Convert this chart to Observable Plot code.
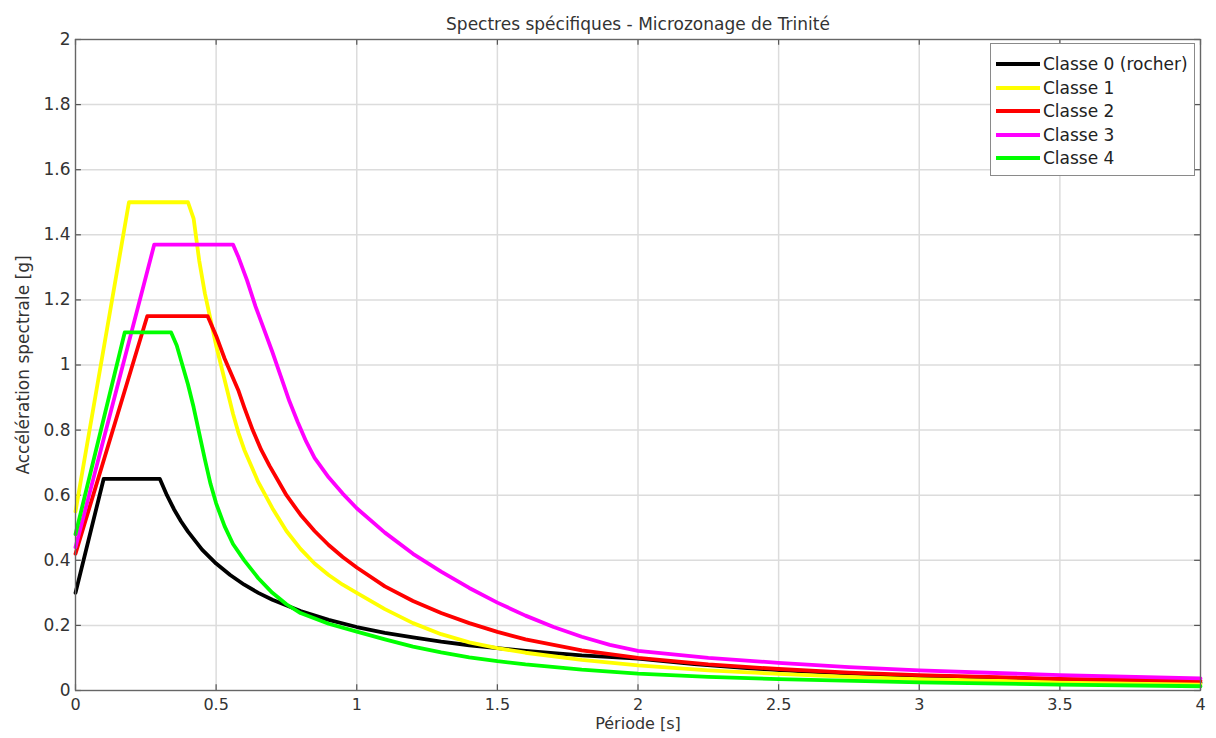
<!DOCTYPE html>
<html>
<head>
<meta charset="utf-8">
<script src="https://cdn.jsdelivr.net/npm/d3@7"></script>
<script src="https://cdn.jsdelivr.net/npm/@observablehq/plot@0.6"></script>
<style>
  html, body { margin: 0; padding: 0; background: #fff; }
  #wrap { position: relative; width: 1216px; height: 738px; font-family: "DejaVu Sans", "Liberation Sans", Arial, sans-serif; }
  #legend { position: absolute; left: 990px; top: 43px; width: 205px; height: 133px; border: 1px solid #8a8a8a; background: #fff; box-sizing: border-box; }
  .item { position: absolute; left: 0; height: 20px; display: flex; align-items: center; font-size: 17px; color: #222; white-space: nowrap; }
  .item svg { margin-left: 4px; margin-right: 2px; }
</style>
</head>
<body>
<div id="wrap"></div>
<script>
// ---- Data ----
const classNames = ["Classe 0 (rocher)", "Classe 1", "Classe 2", "Classe 3", "Classe 4"];
const classColors = ["#000000", "#ffff00", "#ff0000", "#ff00ff", "#00ff00"];

const period0 = [0, 0.1, 0.3, 0.325, 0.35, 0.375, 0.4, 0.45, 0.5, 0.55, 0.6, 0.65, 0.7, 0.8, 0.9, 1.0, 1.1, 1.2, 1.3, 1.4, 1.5, 1.6, 1.8, 2.0, 2.2, 2.4, 2.6, 2.8, 3.0, 3.25, 3.5, 3.75, 4.0];
const accel0  = [0.30, 0.65, 0.65, 0.60, 0.557, 0.52, 0.488, 0.433, 0.39, 0.355, 0.325, 0.30, 0.279, 0.244, 0.217, 0.195, 0.177, 0.163, 0.15, 0.139, 0.13, 0.122, 0.108, 0.098, 0.081, 0.068, 0.058, 0.05, 0.043, 0.037, 0.032, 0.028, 0.024];

const period1 = [0, 0.19, 0.40, 0.42, 0.44, 0.46, 0.48, 0.50, 0.52, 0.54, 0.56, 0.58, 0.60, 0.65, 0.70, 0.75, 0.80, 0.85, 0.90, 0.95, 1.0, 1.1, 1.2, 1.3, 1.4, 1.5, 1.6, 1.8, 2.0, 2.25, 2.5, 2.75, 3.0, 3.5, 4.0];
const accel1  = [0.55, 1.50, 1.50, 1.45, 1.32, 1.22, 1.14, 1.06, 0.99, 0.92, 0.85, 0.79, 0.74, 0.64, 0.56, 0.49, 0.435, 0.39, 0.355, 0.325, 0.30, 0.25, 0.207, 0.173, 0.148, 0.13, 0.116, 0.094, 0.077, 0.062, 0.051, 0.042, 0.035, 0.026, 0.02];

const period2 = [0, 0.255, 0.47, 0.50, 0.53, 0.56, 0.58, 0.60, 0.63, 0.66, 0.69, 0.72, 0.75, 0.80, 0.85, 0.90, 0.95, 1.0, 1.1, 1.2, 1.3, 1.4, 1.5, 1.6, 1.8, 2.0, 2.25, 2.5, 2.75, 3.0, 3.5, 4.0];
const accel2  = [0.42, 1.15, 1.15, 1.09, 1.02, 0.96, 0.92, 0.87, 0.80, 0.74, 0.69, 0.645, 0.60, 0.54, 0.49, 0.447, 0.41, 0.378, 0.32, 0.275, 0.238, 0.207, 0.18, 0.157, 0.123, 0.10, 0.08, 0.066, 0.055, 0.047, 0.036, 0.03];

const period3 = [0, 0.28, 0.56, 0.58, 0.61, 0.64, 0.67, 0.70, 0.73, 0.76, 0.79, 0.82, 0.85, 0.90, 0.95, 1.0, 1.1, 1.2, 1.3, 1.4, 1.5, 1.6, 1.7, 1.8, 1.9, 2.0, 2.25, 2.5, 2.75, 3.0, 3.5, 4.0];
const accel3  = [0.44, 1.37, 1.37, 1.33, 1.26, 1.18, 1.11, 1.04, 0.965, 0.89, 0.825, 0.765, 0.715, 0.655, 0.605, 0.56, 0.485, 0.42, 0.365, 0.315, 0.27, 0.23, 0.195, 0.165, 0.14, 0.122, 0.10, 0.085, 0.072, 0.062, 0.047, 0.037];

const period4 = [0, 0.175, 0.34, 0.36, 0.38, 0.40, 0.42, 0.44, 0.46, 0.48, 0.50, 0.53, 0.56, 0.60, 0.65, 0.70, 0.75, 0.80, 0.9, 1.0, 1.1, 1.2, 1.3, 1.4, 1.5, 1.6, 1.8, 2.0, 2.25, 2.5, 3.0, 3.5, 4.0];
const accel4  = [0.48, 1.10, 1.10, 1.06, 1.00, 0.94, 0.87, 0.79, 0.71, 0.635, 0.575, 0.505, 0.45, 0.40, 0.345, 0.30, 0.265, 0.238, 0.205, 0.181, 0.157, 0.135, 0.117, 0.102, 0.09, 0.08, 0.064, 0.052, 0.042, 0.035, 0.025, 0.018, 0.013];

const xTicks = [0, 0.5, 1, 1.5, 2, 2.5, 3, 3.5, 4];
const yTicks = [0, 0.2, 0.4, 0.6, 0.8, 1, 1.2, 1.4, 1.6, 1.8, 2];
const xTickLabels = ["0", "0.5", "1", "1.5", "2", "2.5", "3", "3.5", "4"];
const yTickLabels = ["0", "0.2", "0.4", "0.6", "0.8", "1", "1.2", "1.4", "1.6", "1.8", "2"];

const titleText = "Spectres spécifiques - Microzonage de Trinité";
const xLabel = "Période [s]";
const yLabel = "Accélération spectrale [g]";

// ---- Build table ----
const periods = [period0, period1, period2, period3, period4];
const accels = [accel0, accel1, accel2, accel3, accel4];
const rows = [];
periods.forEach((ps, i) => ps.forEach((p, j) => rows.push({T: p, Sa: accels[i][j], cls: classNames[i]})));

const tickColor = "#555";
const font = "'DejaVu Sans', 'Liberation Sans', Arial, sans-serif";
const fs = 17;
const chart = Plot.plot({
  width: 1216,
  height: 738,
  marginLeft: 75,
  marginRight: 16,
  marginTop: 39,
  marginBottom: 48,
  style: {fontFamily: font, fontSize: fs + "px", color: "#222", background: "#fff"},
  x: {domain: [0, 4]},
  y: {domain: [0, 2]},
  color: {domain: classNames, range: classColors},
  marks: [
    Plot.gridX(xTicks, {stroke: "#dcdcdc", strokeOpacity: 1, strokeWidth: 1.5}),
    Plot.gridY(yTicks, {stroke: "#dcdcdc", strokeOpacity: 1, strokeWidth: 1.5}),
    Plot.axisX(xTicks, {anchor: "bottom", tickSize: 0, tickPadding: 8, tickFormat: (d, i) => xTickLabels[i], label: null, fontSize: 16, fill: "#333"}),
    Plot.axisY(yTicks, {anchor: "left", tickSize: 0, tickPadding: 5, tickFormat: (d, i) => yTickLabels[i], label: null, fontSize: fs, fill: "#333"}),
    // inward tick marks on all four sides (MATLAB style)
    Plot.ruleX(xTicks, {x: d => d, y1: 0, y2: 0.018, stroke: tickColor, strokeWidth: 1.2}),
    Plot.ruleX(xTicks, {x: d => d, y1: 2, y2: 1.982, stroke: tickColor, strokeWidth: 1.2}),
    Plot.ruleY(yTicks, {y: d => d, x1: 0, x2: 0.021, stroke: tickColor, strokeWidth: 1.2}),
    Plot.ruleY(yTicks, {y: d => d, x1: 4, x2: 3.979, stroke: tickColor, strokeWidth: 1.2}),
    Plot.line(rows, {x: "T", y: "Sa", z: "cls", stroke: "cls", strokeWidth: 3.8, strokeLinejoin: "round", strokeLinecap: "round"}),
    Plot.frame({stroke: "#666", strokeWidth: 1.3}),
    Plot.text([titleText], {frameAnchor: "top", dy: -22, fontSize: fs, fill: "#333"}),
    Plot.text([xLabel], {frameAnchor: "bottom", dy: 38, fontSize: 16, fill: "#333"}),
    Plot.text([yLabel], {frameAnchor: "left", textAnchor: "middle", dx: -52, rotate: -90, fontSize: fs, fill: "#333"})
  ]
});
document.getElementById("wrap").appendChild(chart);

// ---- Legend (HTML overlay) ----
const legend = document.createElement("div");
legend.id = "legend";
classNames.forEach((name, i) => {
  const item = document.createElement("div");
  item.className = "item";
  item.style.top = (10 + i * 23.5) + "px";
  item.innerHTML = `<svg width="46" height="6"><line x1="1" y1="3" x2="45" y2="3" stroke="${classColors[i]}" stroke-width="3.8"/></svg><span>${name}</span>`;
  legend.appendChild(item);
});
document.getElementById("wrap").appendChild(legend);
</script>
</body>
</html>
